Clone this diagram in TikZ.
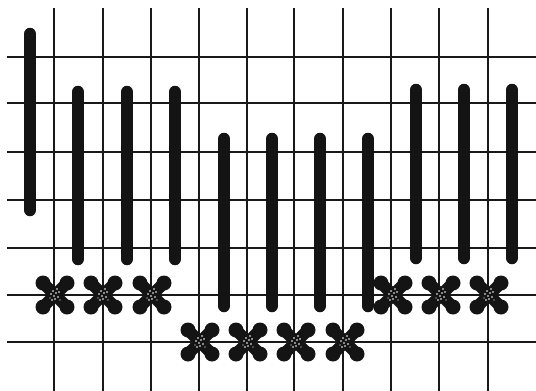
\documentclass[tikz,border=0pt]{standalone}
\begin{document}
\begin{tikzpicture}[x=1pt,y=-1pt,
  hline/.style={line width=2pt,draw=black!90},
  vline/.style={line width=1.6pt,draw=black!90},
  bar/.style={line width=12.5pt,line cap=round,draw=black!92},
  stitch/.pic={
    \draw[line width=12pt,black!92] (-12,-12) -- (12,12) (-12,12) -- (12,-12);
    \fill[black!92] (0,0) circle (7);
    \fill[black!92] (-12,-12) circle (7.5) (12,12) circle (7.5) (-12,12) circle (7.5) (12,-12) circle (7.5);
    \fill[white] (-2,-4) circle (0.9) (1,-2) circle (0.9) (-1,1) circle (0.9) (3,2) circle (0.9)
      (0,4) circle (0.9) (-4,-1) circle (0.9) (2,-6) circle (0.8) (-3,5) circle (0.8) (4,-3) circle (0.8)
      (-5,3) circle (0.7) (5,5) circle (0.7);
  }]
\useasboundingbox (0,0) rectangle (536,391);
% grid
\foreach \y in {57,103,152,200,248,295,342}
  \draw[hline] (7,\y) -- (536,\y);
\foreach \x in {54,103,151,199,247,294,343,391,439,488}
  \draw[vline] (\x,8) -- (\x,391);
% bars
\draw[bar] (30,34) -- (30,210);
\foreach \x in {78,127,175}
  \draw[bar] (\x,92) -- (\x,259);
\foreach \x in {224,272,320,368}
  \draw[bar] (\x,139) -- (\x,306);
\foreach \x in {416,464,512}
  \draw[bar] (\x,90) -- (\x,258);
% stitches
\foreach \x in {55,103,152}
  \pic at (\x,295) {stitch};
\foreach \x in {200,248,296,345}
  \pic at (\x,342) {stitch};
\foreach \x in {393,441,489}
  \pic at (\x,295) {stitch};
\end{tikzpicture}
\end{document}
